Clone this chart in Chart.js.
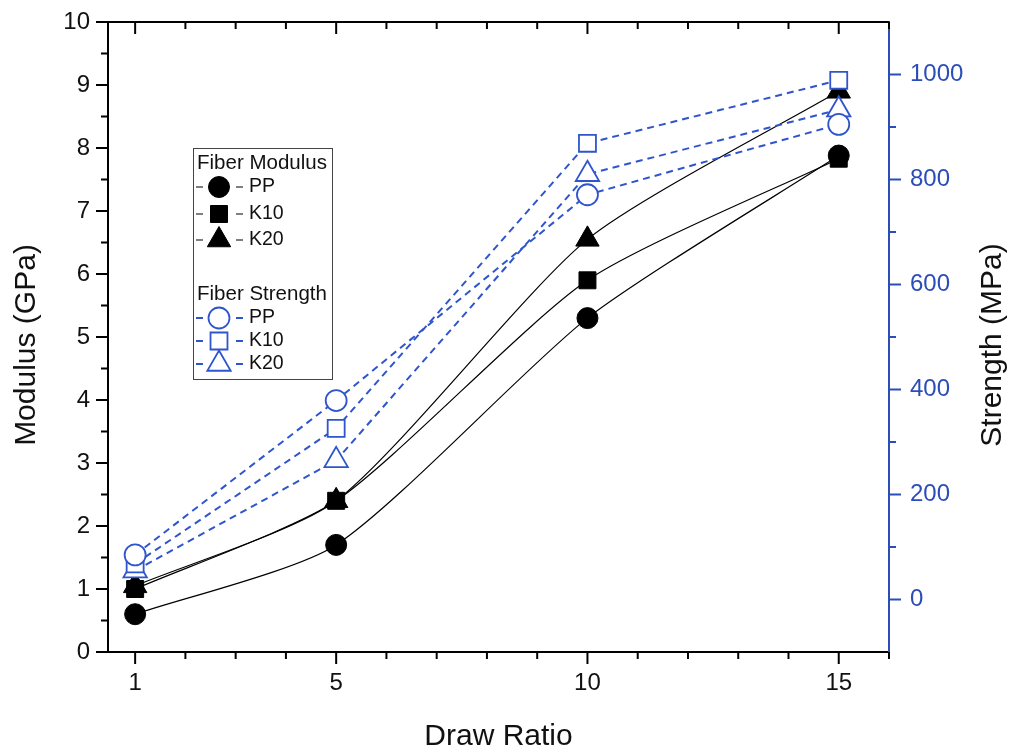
<!DOCTYPE html>
<html>
<head>
<meta charset="utf-8">
<script src="https://cdn.jsdelivr.net/npm/chart.js@4.4.1/dist/chart.umd.min.js"></script>
<style>
  body { margin: 0; background: #fff; }
  #wrap { width: 1014px; height: 751px; }
</style>
</head>
<body>
<div id="wrap"><canvas id="drawChart" width="1014" height="751"></canvas></div>
<script>
// Fiber modulus (left axis) and fiber strength (right axis) vs draw ratio

const drawRatio = [1, 5, 10, 15];

// modulus, GPa
const modulusPP  = [0.6, 1.7, 5.3, 7.88];
const modulusK10 = [1.0, 2.4, 5.9, 7.83];
const modulusK20 = [1.05, 2.4, 6.55, 8.9];

// strength, MPa
const strengthPP  = [85, 379, 771, 905];
const strengthK10 = [68, 326, 869, 989];
const strengthK20 = [55, 265, 810, 933];

const ratioTicks    = [1, 5, 10, 15];
const modulusTicks  = [0, 1, 2, 3, 4, 5, 6, 7, 8, 9, 10];
const strengthTicks = [0, 200, 400, 600, 800, 1000];

const BLUE = '#2f55cc';
const AXIS_BLUE = '#2b4db8';
const FONT = "'Liberation Sans', Arial, sans-serif";

function pts(ys) {
    return drawRatio.map((x, i) => ({ x: x, y: ys[i] }));
}

function modulusSet(label, values, style, radius) {
    return {
        label: label,
        group: 'Fiber Modulus',
        data: pts(values),
        yAxisID: 'y',
        borderColor: '#000',
        borderWidth: 1.2,
        tension: 0.22,
        pointStyle: style,
        pointRadius: radius,
        pointBorderWidth: 1,
        pointBackgroundColor: '#000',
        pointBorderColor: '#000'
    };
}

function strengthSet(label, values, style, radius) {
    return {
        label: label,
        group: 'Fiber Strength',
        data: pts(values),
        yAxisID: 'y2',
        borderColor: BLUE,
        borderWidth: 2,
        borderDash: [7, 5],
        tension: 0,
        pointStyle: style,
        pointRadius: radius,
        pointBorderWidth: 1.8,
        pointBackgroundColor: '#fff',
        pointBorderColor: BLUE
    };
}

// tick marks (major + minor) and the top frame line
const axisMarks = {
    id: 'axisMarks',
    afterDraw(chart) {
        const { ctx, chartArea: a, scales } = chart;
        const line = (x1, y1, x2, y2) => {
            ctx.beginPath(); ctx.moveTo(x1, y1); ctx.lineTo(x2, y2); ctx.stroke();
        };
        ctx.save();
        ctx.lineWidth = 2;
        ctx.strokeStyle = '#000';
        line(a.left - 1, a.top, a.right, a.top);

        const MAJ = 12, MIN = 7;
        for (let v = 1; v <= 16; v++) {
            const x = scales.x.getPixelForValue(v);
            const len = ratioTicks.includes(v) ? MAJ : MIN;
            line(x, a.bottom, x, a.bottom + len);
            line(x, a.top, x, a.top + len);
        }
        for (let v = 0; v <= 10; v += 0.5) {
            const y = scales.y.getPixelForValue(v);
            const len = modulusTicks.includes(v) ? MAJ : MIN;
            line(a.left, y, a.left - len, y);
        }
        ctx.strokeStyle = AXIS_BLUE;
        for (let v = 0; v <= 1000; v += 100) {
            const y = scales.y2.getPixelForValue(v);
            const len = strengthTicks.includes(v) ? MAJ : MIN;
            line(a.right, y, a.right + len, y);
        }
        ctx.restore();
    }
};

// axis titles (right one reads bottom-to-top like the left one)
const axisTitles = {
    id: 'axisTitles',
    afterDraw(chart) {
        const ctx = chart.ctx;
        const a = chart.chartArea;
        const midY = (a.top + a.bottom) / 2 + 8;
        ctx.save();
        ctx.font = '30px ' + FONT;
        ctx.fillStyle = '#111';
        ctx.textAlign = 'center';
        ctx.textBaseline = 'alphabetic';
        ctx.fillText('Draw Ratio', (a.left + a.right) / 2, 745);
        ctx.textBaseline = 'middle';
        [[27, 'Modulus (GPa)'], [993, 'Strength (MPa)']].forEach(([x, txt]) => {
            ctx.save();
            ctx.translate(x, midY);
            ctx.rotate(-Math.PI / 2);
            ctx.fillText(txt, 0, 0);
            ctx.restore();
        });
        ctx.restore();
    }
};

// boxed legend inside the plot, grouped by axis
const legendBox = {
    id: 'legendBox',
    afterDraw(chart) {
        const ctx = chart.ctx;
        const box = { x: 193, y: 148, w: 139, h: 231 };
        const groups = [
            { title: 'Fiber Modulus', y: 163, rowY: [187, 214, 240] },
            { title: 'Fiber Strength', y: 294, rowY: [318, 341, 364] }
        ];
        ctx.save();
        ctx.fillStyle = '#fff';
        ctx.fillRect(box.x, box.y, box.w, box.h);
        ctx.strokeStyle = '#444';
        ctx.lineWidth = 1;
        ctx.strokeRect(box.x + 0.5, box.y + 0.5, box.w, box.h);

        groups.forEach(g => {
            ctx.fillStyle = '#111';
            ctx.font = '20.5px ' + FONT;
            ctx.textAlign = 'left';
            ctx.textBaseline = 'middle';
            ctx.fillText(g.title, box.x + 4, g.y);
            const sets = chart.data.datasets.filter(d => d.group === g.title);
            sets.forEach((d, i) => {
                const y = g.rowY[i];
                const cx = 219;
                ctx.strokeStyle = d.borderColor;
                ctx.lineWidth = d.yAxisID === 'y' ? 1.2 : 2;
                ctx.beginPath();
                ctx.moveTo(196, y); ctx.lineTo(203, y);
                ctx.moveTo(236, y); ctx.lineTo(243, y);
                ctx.stroke();
                ctx.fillStyle = d.pointBackgroundColor;
                ctx.strokeStyle = d.pointBorderColor;
                ctx.lineWidth = d.pointBorderWidth;
                Chart.helpers.drawPoint(ctx, {
                    pointStyle: d.pointStyle,
                    radius: d.pointRadius,
                    borderWidth: d.pointBorderWidth,
                    rotation: 0
                }, cx, y);
                ctx.fillStyle = '#111';
                ctx.font = '19.5px ' + FONT;
                ctx.fillText(d.label, 249, y);
            });
        });
        ctx.restore();
    }
};

const plain = v => String(v);

const chart = new Chart(document.getElementById('drawChart'), {
    type: 'line',
    data: {
        datasets: [
            strengthSet('PP', strengthPP, 'circle', 10.5),
            strengthSet('K10', strengthK10, 'rect', 12),
            strengthSet('K20', strengthK20, 'triangle', 13.5),
            modulusSet('PP', modulusPP, 'circle', 10.5),
            modulusSet('K10', modulusK10, 'rect', 12),
            modulusSet('K20', modulusK20, 'triangle', 13.5)
        ]
    },
    options: {
        responsive: false,
        animation: false,
        layout: { padding: { top: 22, left: 0, right: 0, bottom: 0 } },
        plugins: {
            legend: { display: false },
            tooltip: { enabled: false }
        },
        scales: {
            x: {
                type: 'linear',
                min: 0.46,
                max: 16,
                grid: { display: false, drawTicks: false },
                border: { display: true, color: '#000', width: 2 },
                ticks: { color: '#111', font: { family: FONT, size: 24 }, padding: 17, callback: plain },
                afterBuildTicks: s => { s.ticks = ratioTicks.map(v => ({ value: v })); },
                afterFit: s => { s.height = 99; s.paddingLeft = 0; s.paddingRight = 0; }
            },
            y: {
                position: 'left',
                min: 0,
                max: 10,
                grid: { display: false, drawTicks: false },
                border: { display: true, color: '#000', width: 2 },
                ticks: { color: '#111', font: { family: FONT, size: 24 }, padding: 18, callback: plain },
                afterBuildTicks: s => { s.ticks = modulusTicks.map(v => ({ value: v })); },
                afterFit: s => { s.width = 108; s.paddingTop = 0; s.paddingBottom = 0; }
            },
            y2: {
                position: 'right',
                min: -100,
                max: 1100,
                grid: { display: false, drawTicks: false },
                border: { display: true, color: AXIS_BLUE, width: 2 },
                ticks: { color: AXIS_BLUE, font: { family: FONT, size: 24 }, padding: 21, callback: plain },
                afterBuildTicks: s => { s.ticks = strengthTicks.map(v => ({ value: v })); },
                afterFit: s => { s.width = 125; s.paddingTop = 0; s.paddingBottom = 0; }
            }
        }
    },
    plugins: [axisMarks, axisTitles, legendBox]
});
</script>
</body>
</html>
